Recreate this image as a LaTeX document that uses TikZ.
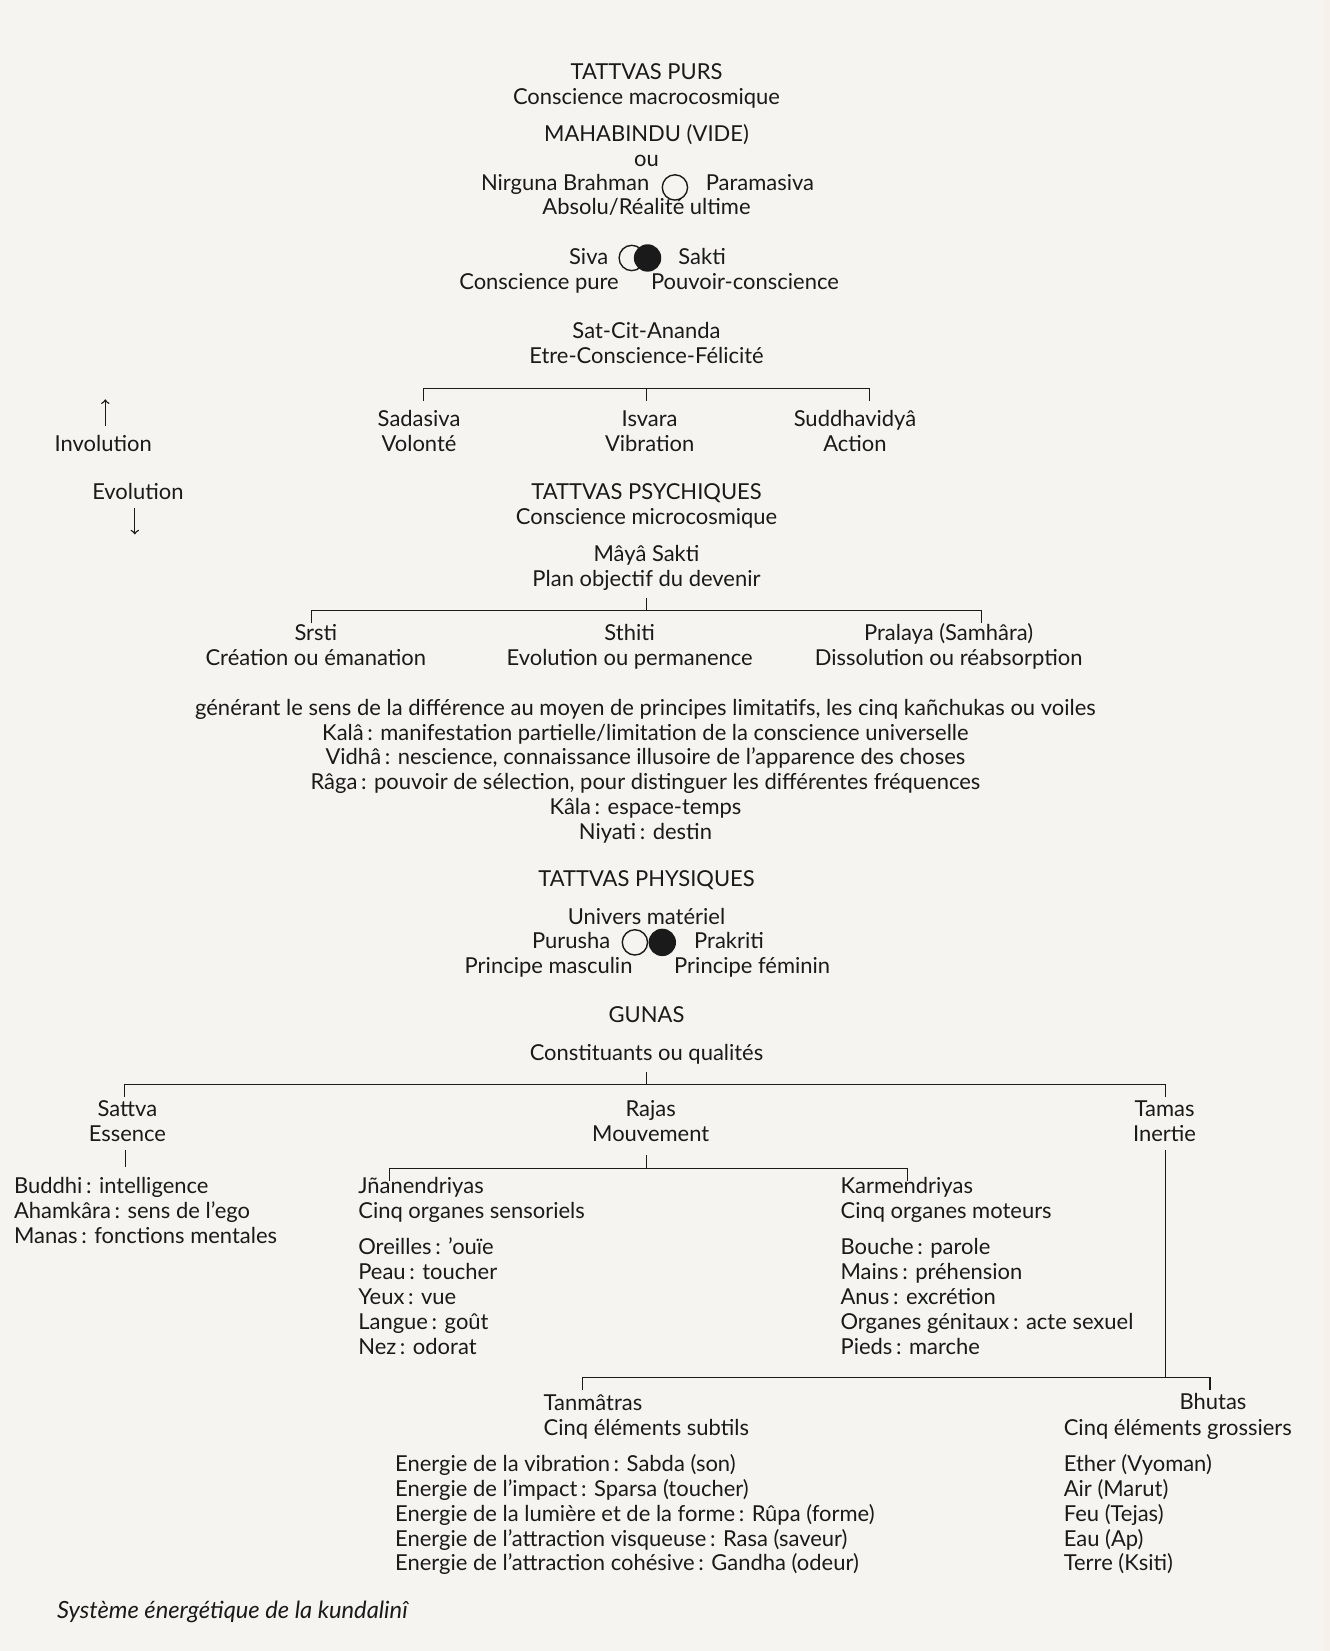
\documentclass[tikz,border=0pt]{standalone}
\usepackage{fontspec}
\setmainfont{Lato}
\definecolor{paper}{HTML}{F5F4F0}
\definecolor{ink}{HTML}{1A1A1A}
\tikzset{
  txt/.style={inner sep=0pt, anchor=base, align=center, text=ink, font=\fontsize{12.5}{14.1}\selectfont},
  ltxt/.style={txt, anchor=base west, align=left},
  rtxt/.style={txt, anchor=base east, align=right},
  brk/.style={draw=ink, line width=0.8pt},
  ring/.style={draw=ink, line width=0.8pt, circle, minimum size=14.4pt, inner sep=0pt},
  disc/.style={fill=ink, circle, minimum size=15.6pt, inner sep=0pt},
}
\begin{document}
\begin{tikzpicture}[x=0.21062mm, y=-0.21062mm]
\useasboundingbox (0,0) rectangle (1263,1568);
\fill[paper] (0,0) rectangle (1263,1568);
\fill[paper!80!brown!40] (1257,0) rectangle (1263,1568);

\node[txt] (tpurs) at (614,99) {TATTVAS PURS\\Conscience macrocosmique};
\node[txt] (mahabindu) at (614,158) {MAHABINDU (VIDE)\\ou};
\node[rtxt] (nirguna) at (617,181) {Nirguna Brahman};
\node[ltxt] (paramasiva) at (670,181) {Paramasiva};
\node[ring] (vide) at (641,178) {};
\node[txt] (absolu) at (614,204) {Absolu/Réalité ultime};

\node[rtxt] (siva) at (578,251) {Siva};
\node[ltxt] (sakti) at (644,251) {Sakti};
\node[ring] (sivaC) at (600,245) {};
\node[disc] (saktiC) at (615,245) {};
\node[rtxt] (cpure) at (588,275) {Conscience pure};
\node[ltxt] (pouvoir) at (618,275) {Pouvoir-conscience};

\node[txt] (satcit) at (614,345) {Sat-Cit-Ananda\\Etre-Conscience-Félicité};

\coordinate (b1l) at (402,369);
\coordinate (b1m) at (614,369);
\coordinate (b1r) at (826,369);
\draw[brk] (b1l) ++(0,12) -- (b1l) -- (b1r) -- ++(0,12);
\draw[brk] (b1m) -- ++(0,12);

\node[txt] (sadasiva) at (398,429) {Sadasiva\\Volonté};
\node[txt] (isvara) at (617,429) {Isvara\\Vibration};
\node[txt] (suddha) at (812,429) {Suddhavidyâ\\Action};

\node[txt] (involution) at (98,429) {Involution};
\node[txt] (evolution) at (131,474) {Evolution};
\draw[->, ink, line width=0.8pt] (involution.north) ++(2,-9) -- ++(0,-25);
\draw[->, ink, line width=0.8pt] (evolution.south) ++(-3,8) -- ++(0,25);

\node[txt] (tpsych) at (614,498) {TATTVAS PSYCHIQUES\\Conscience microcosmique};
\node[txt] (maya) at (614,557) {Mâyâ Sakti\\Plan objectif du devenir};

\coordinate (b2l) at (296,580);
\coordinate (b2m) at (614,580);
\coordinate (b2r) at (932,580);
\draw[brk] (b2l) ++(0,12) -- (b2l) -- (b2r) -- ++(0,12);
\draw[brk] (b2m) -- ++(0,-12);

\node[txt] (srsti) at (300,632) {Srsti\\Création ou émanation};
\node[txt] (sthiti) at (598,632) {Sthiti\\Evolution ou permanence};
\node[txt] (pralaya) at (901,632) {Pralaya (Samhâra)\\Dissolution ou réabsorption};

\node[txt] (kanchukas) at (613,797) {générant le sens de la différence au moyen de principes limitatifs, les cinq kañchukas ou voiles\\
Kalâ\,: manifestation partielle/limitation de la conscience universelle\\
Vidhâ\,: nescience, connaissance illusoire de l'apparence des choses\\
Râga\,: pouvoir de sélection, pour distinguer les différentes fréquences\\
Kâla\,: espace-temps\\
Niyati\,: destin};

\node[txt] (tphys) at (614,842) {TATTVAS PHYSIQUES};
\node[txt] (univers) at (614,878) {Univers matériel};
\node[rtxt] (purusha) at (580,901) {Purusha};
\node[ltxt] (prakriti) at (659,901) {Prakriti};
\node[ring] (purushaC) at (603,895) {};
\node[disc] (prakritiC) at (629,895) {};
\node[rtxt] (masculin) at (601,925) {Principe masculin};
\node[ltxt] (feminin) at (640,925) {Principe féminin};

\node[txt] (gunas) at (614,971) {GUNAS};
\node[txt] (constituants) at (614,1007) {Constituants ou qualités};

\coordinate (b3l) at (118,1030);
\coordinate (b3m) at (614,1030);
\coordinate (b3r) at (1107,1030);
\draw[brk] (b3l) ++(0,12) -- (b3l) -- (b3r) -- ++(0,12);
\draw[brk] (b3m) -- ++(0,-12);

\node[txt] (sattva) at (121,1084) {Sattva\\Essence};
\node[txt] (rajas) at (618,1084) {Rajas\\Mouvement};
\node[txt] (tamas) at (1106,1084) {Tamas\\Inertie};

\coordinate (sattvaT) at (119,1092);
\draw[brk] (sattvaT) -- ++(0,16);
\node[ltxt] (buddhi) at (13,1181) {Buddhi\,: intelligence\\Ahamkâra\,: sens de l'ego\\Manas\,: fonctions mentales};

\coordinate (b4l) at (370,1110);
\coordinate (b4m) at (614,1110);
\coordinate (b4r) at (862,1110);
\draw[brk] (b4l) ++(0,12) -- (b4l) -- (b4r) -- ++(0,12);
\draw[brk] (b4m) -- ++(0,-13);

\node[ltxt] (jnana) at (340,1157) {Jñanendriyas\\Cinq organes sensoriels};
\node[ltxt] (karma) at (798,1157) {Karmendriyas\\Cinq organes moteurs};
\node[ltxt] (sens) at (340,1286) {Oreilles\,: 'ouïe\\Peau\,: toucher\\Yeux\,: vue\\Langue\,: goût\\Nez\,: odorat};
\node[ltxt] (moteurs) at (798,1286) {Bouche\,: parole\\Mains\,: préhension\\Anus\,: excrétion\\Organes génitaux\,: acte sexuel\\Pieds\,: marche};

\coordinate (tamasT) at (1107,1092);
\coordinate (b5l) at (553,1308);
\coordinate (b5m) at (1107,1308);
\coordinate (b5r) at (1149,1308);
\draw[brk] (tamasT) -- (b5m);
\draw[brk] (b5l) ++(0,12) -- (b5l) -- (b5r) -- ++(0,12);

\node[ltxt] (tanmatras) at (516,1363) {Tanmâtras\\Cinq éléments subtils};
\node[txt] (bhutas) at (1152,1339) {Bhutas};
\node[ltxt] (grossiers) at (1010,1363) {Cinq éléments grossiers};
\node[ltxt] (energies) at (375,1492) {Energie de la vibration\,: Sabda (son)\\
Energie de l'impact\,: Sparsa (toucher)\\
Energie de la lumière et de la forme\,: Rûpa (forme)\\
Energie de l'attraction visqueuse\,: Rasa (saveur)\\
Energie de l'attraction cohésive\,: Gandha (odeur)};
\node[ltxt] (elements) at (1010,1492) {Ether (Vyoman)\\Air (Marut)\\Feu (Tejas)\\Eau (Ap)\\Terre (Ksiti)};

\node[ltxt, font=\fontsize{13.5}{15}\selectfont\itshape] (legende) at (54,1537) {Système énergétique de la kundalinî};
\end{tikzpicture}
\end{document}
